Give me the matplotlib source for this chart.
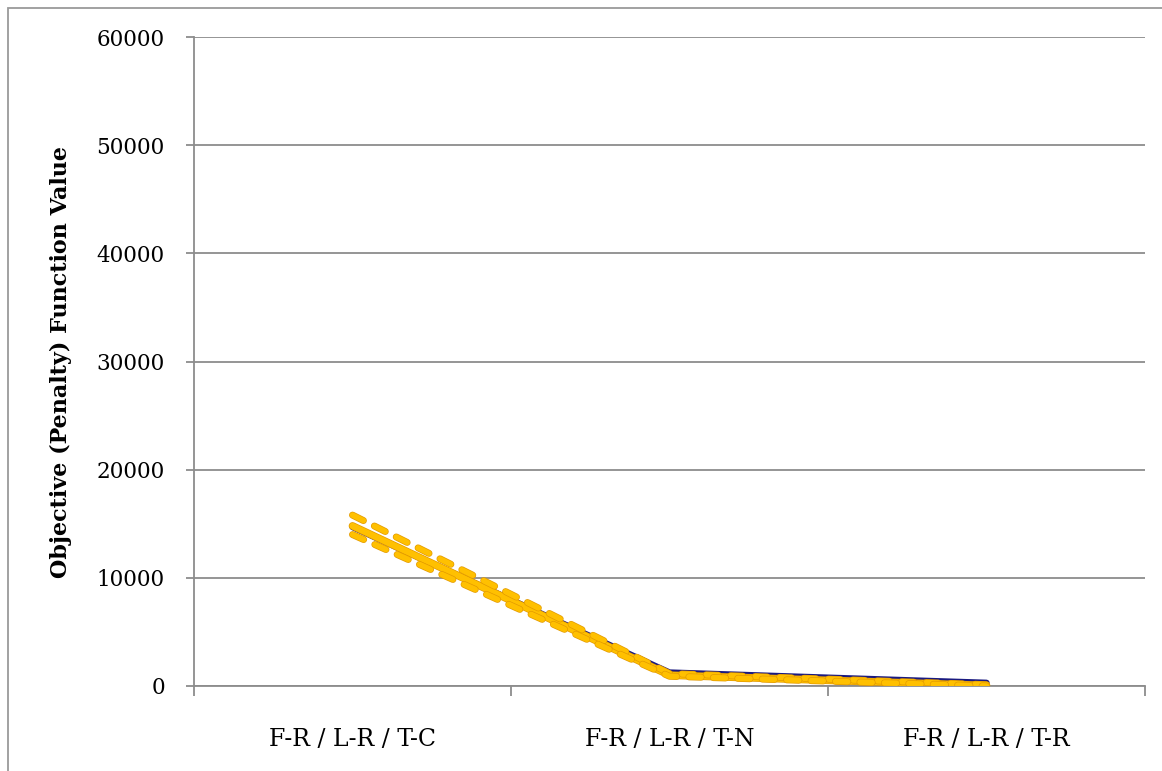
import matplotlib
matplotlib.use("Agg")
import matplotlib.pyplot as plt
import matplotlib.patheffects as pe
from matplotlib.patches import Rectangle

categories = ["F-R / L-R / T-C", "F-R / L-R / T-N", "F-R / L-R / T-R"]
navy_series = [14700, 1250, 300]
mean_series = [14800, 1000, 50]
upper_series = [15800, 1150, 120]
lower_series = [14000, 900, 0]
y_ticks = [0, 10000, 20000, 30000, 40000, 50000, 60000]
y_label = "Objective (Penalty) Function Value"

plt.rcParams['font.family'] = ['DejaVu Serif']

fig = plt.figure(figsize=(11.62, 7.71), dpi=100)
ax = fig.add_axes([194/1162, 1-686/771, (1145-194)/1162, (686-37)/771])

x = list(range(len(categories)))
edge = '#E39A00'
yellow = '#FFC000'

ax.plot(x, navy_series, color='#1A1A80', lw=4.5, solid_capstyle='round', solid_joinstyle='round', zorder=3)
ax.plot(x, mean_series, color=yellow, lw=4.5, solid_capstyle='round', solid_joinstyle='round', zorder=4,
        path_effects=[pe.Stroke(linewidth=5.5, foreground=edge), pe.Normal()])
for s in (upper_series, lower_series):
    ax.plot(x, s, color=yellow, lw=4.0, linestyle=(0, (2.2, 2.2)), dash_capstyle='round', zorder=5,
            path_effects=[pe.Stroke(linewidth=5.0, foreground=edge), pe.Normal()])

ax.set_xlim(-0.5, 2.5)
ax.set_ylim(0, 60000)
ax.set_yticks(y_ticks)
ax.set_yticklabels([str(v) for v in y_ticks], fontsize=15.5)
ax.set_xticks([-0.5, 0.5, 1.5, 2.5])
ax.set_xticklabels([])
ax.set_xticks(x, minor=True)
ax.set_xticklabels(categories, minor=True, fontsize=17)
ax.tick_params(axis='x', which='minor', length=0, pad=30)
ax.tick_params(axis='x', which='major', length=7, color='#8C8C8C', width=1.3, direction='out')
ax.tick_params(axis='y', length=6, color='#8C8C8C', width=1.3, direction='out', pad=15)

ax.grid(axis='y', color='#8C8C8C', lw=1.3)
ax.set_axisbelow(True)
for side in ('top', 'right'):
    ax.spines[side].set_visible(False)
for side in ('left', 'bottom'):
    ax.spines[side].set_color('#8C8C8C')
    ax.spines[side].set_linewidth(1.3)

ax.set_ylabel(y_label, fontsize=16, fontweight='bold')
ax.yaxis.set_label_coords(-(194-72)/951, 0.5)

fig.patches.append(Rectangle((8/1162, -0.1), 1.2, 1-8/771+0.1, transform=fig.transFigure,
                             fill=False, edgecolor='#9A9A9A', lw=1.3))

fig.savefig("out.png", dpi=100)
